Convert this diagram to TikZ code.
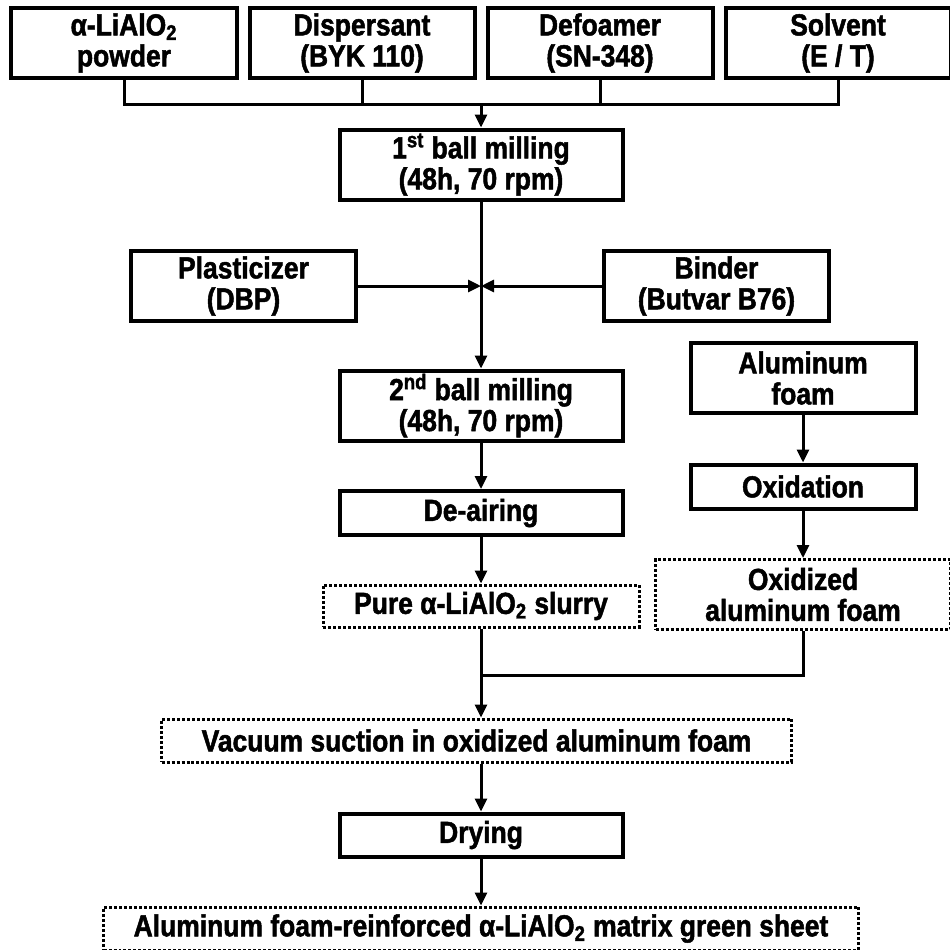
\documentclass[tikz,border=0pt]{standalone}
\usepackage{fontspec}
\setmainfont{Liberation Sans}[BoldFeatures={FakeStretch=0.87,FakeBold=1.6}]
\usetikzlibrary{positioning,arrows.meta}

\tikzset{
  stepbox/.style={draw, line width=0.08cm, align=center, inner sep=0pt,
    font=\bfseries\fontsize{17.3}{17.6}\selectfont, minimum height=1.4cm},
  dotbox/.style={stepbox, line width=0.06cm, dash pattern=on 0.06cm off 0.04cm},
  flow/.style={line width=0.06cm, -{Triangle[length=0.26cm,width=0.24cm]}},
  linkline/.style={line width=0.06cm}
}

\begin{document}
\begin{tikzpicture}[node distance=0.93cm, auto]
  \useasboundingbox (0,0) rectangle (19,-18.98);

  % starting materials
  \node[stepbox, minimum width=4.5cm] (pow) at (2.48,-0.86) {α-LiAlO\textsubscript{2}\\powder};
  \node[stepbox, minimum width=4.5cm, right=0.18cm of pow] (disp) {Dispersant\\(BYK 110)};
  \node[stepbox, minimum width=4.5cm, right=0.18cm of disp] (defo) {Defoamer\\(SN-348)};
  \node[stepbox, minimum width=4.5cm, right=0.18cm of defo] (solv) {Solvent\\(E / T)};
  \coordinate (top) at (9.62,-2.08);

  % slurry route
  \node[stepbox, minimum width=5.66cm] (mill1) at (9.62,-3.29) {1\textsuperscript{st} ball milling\\(48h, 70 rpm)};
  \coordinate (mix) at (9.62,-5.72);
  \node[stepbox, minimum width=4.5cm, left=2.46cm of mix] (plast) {Plasticizer\\(DBP)};
  \node[stepbox, minimum width=4.5cm, right=2.42cm of mix] (bind) {Binder\\(Butvar B76)};
  \node[stepbox, minimum width=5.66cm, below=3.34cm of mill1] (mill2) {2\textsuperscript{nd} ball milling\\(48h, 70 rpm)};
  \node[stepbox, minimum width=5.66cm, minimum height=0.88cm, below=of mill2] (deair) {De-airing};
  \node[dotbox, minimum width=6.32cm, minimum height=0.84cm, below=of deair] (slurry) {Pure α-LiAlO\textsubscript{2} slurry};

  % foam route
  \node[stepbox, minimum width=4.5cm] (foam) at (16.06,-7.56) {Aluminum\\foam};
  \node[stepbox, minimum width=4.5cm, minimum height=0.88cm, below=0.95cm of foam] (oxid) {Oxidation};
  \node[dotbox, minimum width=5.9cm, below=0.95cm of oxid] (oxfoam) {Oxidized\\aluminum foam};
  \coordinate (merge) at (9.62,-13.5);

  % final steps
  \node[dotbox, minimum width=12.6cm, minimum height=0.86cm, below=1.78cm of slurry, xshift=-0.09cm] (vac) {Vacuum suction in oxidized aluminum foam};
  \node[stepbox, minimum width=5.66cm, minimum height=0.86cm, below=0.96cm of vac, xshift=0.09cm] (dry) {Drying};
  \node[dotbox, minimum width=15.1cm, minimum height=0.86cm, below=0.94cm of dry] (final) {Aluminum foam-reinforced α-LiAlO\textsubscript{2} matrix green sheet};

  \draw[linkline] (pow.south) |- (top) -| (solv.south);
  \draw[linkline] (disp.south) -- (disp.south |- top);
  \draw[linkline] (defo.south) -- (defo.south |- top);
  \draw[linkline] (slurry.south) -- (merge);
  \draw[linkline] (oxfoam.south) |- (merge);

  \path [flow]
    (top) edge (mill1)
    (mill1) edge (mill2)
    (plast) edge (mix)
    (bind) edge (mix)
    (mill2) edge (deair)
    (deair) edge (slurry)
    (foam) edge (oxid)
    (oxid) edge (oxfoam)
    (merge) edge (merge |- vac.north)
    (vac.south -| dry) edge (dry)
    (dry) edge (dry |- final.north)
  ;
\end{tikzpicture}
\end{document}
